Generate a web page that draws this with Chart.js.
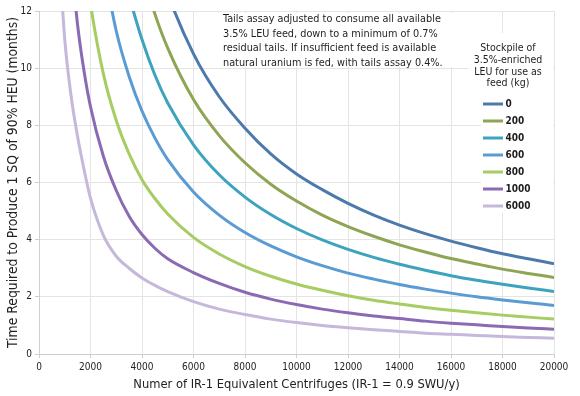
<!DOCTYPE html>
<html><head><meta charset="utf-8">
<script src="https://cdn.jsdelivr.net/npm/chart.js@4"></script>
<style>html,body{margin:0;padding:0;background:#fff}#wrap{width:580px;height:396px;position:relative}</style>
</head><body><div id="wrap"><canvas id="c"></canvas></div>
<script>
const centrifuges = [900, 1000, 1250, 1500, 1750, 2000, 2500, 3000, 3500, 4000, 4500, 5000, 6000, 7000, 8000, 9000, 10000, 11000, 12000, 13000, 14000, 15000, 16000, 17000, 18000, 19000, 20000];
const stock0    = [null, null, null, null, null, null, null, null, null, null, 14.0, 12.6, 10.5, 9.0, 7.9, 7.0, 6.3, 5.75, 5.27, 4.86, 4.51, 4.21, 3.95, 3.72, 3.51, 3.33, 3.16];
const stock200  = [null, null, null, null, null, null, null, null, null, 13.4, 11.9, 10.7, 8.9, 7.64, 6.69, 5.94, 5.35, 4.86, 4.46, 4.12, 3.82, 3.57, 3.34, 3.15, 2.97, 2.82, 2.68];
const stock400  = [null, null, null, null, null, null, null, null, 12.5, 11.0, 9.76, 8.78, 7.32, 6.27, 5.49, 4.88, 4.39, 3.99, 3.66, 3.38, 3.14, 2.93, 2.74, 2.58, 2.44, 2.31, 2.19];
const stock600  = [null, null, null, null, null, null, 13.6, 11.3, 9.71, 8.5, 7.56, 6.8, 5.67, 4.86, 4.25, 3.78, 3.4, 3.09, 2.83, 2.62, 2.43, 2.27, 2.13, 2.0, 1.89, 1.79, 1.7];
const stock800  = [null, null, null, null, 14.0, 12.25, 9.8, 8.17, 7.0, 6.1, 5.44, 4.9, 4.08, 3.5, 3.06, 2.72, 2.45, 2.23, 2.04, 1.88, 1.75, 1.63, 1.53, 1.44, 1.36, 1.29, 1.22];
const stock1000 = [null, null, 13.8, 11.5, 9.89, 8.65, 6.92, 5.72, 4.82, 4.18, 3.70, 3.33, 2.85, 2.47, 2.16, 1.92, 1.73, 1.57, 1.44, 1.33, 1.24, 1.15, 1.08, 1.02, 0.96, 0.91, 0.87];
const stock6000 = [12.3, 11.0, 9.0, 7.6, 6.45, 5.45, 4.15, 3.42, 3.0, 2.66, 2.4, 2.18, 1.83, 1.57, 1.38, 1.22, 1.1, 1.0, 0.92, 0.85, 0.79, 0.73, 0.69, 0.65, 0.61, 0.58, 0.55];
const seriesLabels = ['0', '200', '400', '600', '800', '1000', '6000'];
const seriesValues = [stock0, stock200, stock400, stock600, stock800, stock1000, stock6000];
const seriesColors = ['#4c7aac', '#8ea553', '#3ea3bd', '#5b9bd3', '#a6cc62', '#8a6bb3', '#c5b8da'];
const xTitle = 'Numer of IR-1 Equivalent Centrifuges (IR-1 = 0.9 SWU/y)';
const yTitle = 'Time Required to Produce 1 SQ of 90% HEU (months)';
const noteLines = ['Tails assay adjusted to consume all available', '3.5% LEU feed, down to a minimum of 0.7%', 'residual tails. If insufficient feed is available', 'natural uranium is fed, with tails assay 0.4%.'];
const legendTitle = ['Stockpile of', '3.5%-enriched', 'LEU for use as', 'feed (kg)'];

const FONT = "'DejaVu Sans Condensed','Noto Sans',sans-serif";

const datasets = seriesValues.map((vals, i) => ({
  label: seriesLabels[i],
  data: centrifuges.map((x, j) => ({x: x, y: vals[j]})).filter(p => p.y !== null),
  borderColor: seriesColors[i],
  backgroundColor: seriesColors[i],
  borderWidth: 3,
  pointRadius: 0,
  cubicInterpolationMode: 'monotone',
  fill: false
}));

const notesPlugin = {
  id: 'notes',
  beforeDatasetsDraw(chart) {
    const ctx = chart.ctx;
    ctx.save();
    ctx.fillStyle = '#fff';
    ctx.fillRect(222, 13, 242, 54);
    ctx.fillRect(468, 33, 85, 60);
    ctx.fillRect(481, 92, 72, 121);
    ctx.fillStyle = '#1e1e1e';
    ctx.textBaseline = 'middle';
    ctx.textAlign = 'left';
    ctx.font = '10.8px ' + FONT;
    noteLines.forEach((t, i) => ctx.fillText(t, 223, 19.5 + i * 14.4));
    ctx.textAlign = 'center';
    ctx.font = '10.5px ' + FONT;
    legendTitle.forEach((t, i) => ctx.fillText(t, 508, 48.5 + i * 11.7));
    ctx.textAlign = 'left';
    ctx.font = 'bold 10px ' + FONT;
    seriesLabels.forEach((t, i) => {
      const y = 104 + i * 17;
      ctx.strokeStyle = seriesColors[i];
      ctx.lineWidth = 3;
      ctx.beginPath();
      ctx.moveTo(483, y);
      ctx.lineTo(503, y);
      ctx.stroke();
      ctx.fillText(t, 505.5, y);
    });
    ctx.restore();
  }
};

new Chart(document.getElementById('c'), {
  type: 'line',
  data: {datasets: datasets},
  plugins: [notesPlugin],
  options: {
    responsive: true,
    maintainAspectRatio: false,
    animation: false,
    layout: {padding: {top: 11, right: 26, left: 0, bottom: 0}},
    plugins: {legend: {display: false}, tooltip: {enabled: false}},
    scales: {
      x: {
        type: 'linear', min: 0, max: 20000,
        afterFit: s => { s.height = 42; },
        ticks: {stepSize: 2000, autoSkip: false, maxRotation: 0, padding: 3, color: '#222',
                font: {family: FONT, size: 10}, callback: v => String(v)},
        grid: {color: '#e4e4e4', tickLength: 4, tickColor: '#cfcfcf'},
        border: {color: '#cfcfcf'},
        title: {display: true, text: xTitle, color: '#222', font: {family: FONT, size: 12.8}, padding: {top: 0, bottom: 4}}
      },
      y: {
        min: 0, max: 12,
        afterFit: s => { s.width = 39; },
        ticks: {stepSize: 2, padding: 3, color: '#222', font: {family: FONT, size: 10}},
        grid: {color: '#e4e4e4', tickLength: 4, tickColor: '#cfcfcf'},
        border: {color: '#cfcfcf'},
        title: {display: true, text: yTitle, color: '#222', font: {family: FONT, size: 13.8}, padding: {top: 5, bottom: 0}}
      }
    }
  }
});
</script></body></html>
